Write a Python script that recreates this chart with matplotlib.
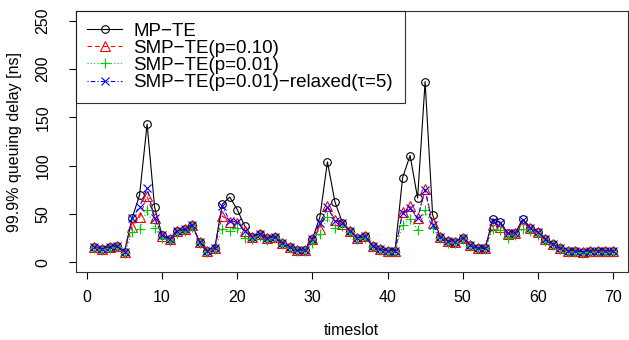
#!/usr/bin/env python3

"""
99.9% queuing delay per timeslot, MP-TE vs SMP-TE variants
"""

import numpy as np
import matplotlib
matplotlib.use("Agg")
import matplotlib.pyplot as plt

plt.rcParams["font.family"] = ["Liberation Sans", "DejaVu Sans"]

timeslot = np.arange(1, 71)

mp_te = [16, 14, 16, 16.5, 11, 45.5, 69.5, 143, 57, 28,
         24, 32.5, 34, 38.5, 21, 12, 14.5, 60, 67.5, 54.5,
         37.5, 26.5, 29.5, 25, 26.5, 20, 15.5, 12.7, 12.7, 24,
         47, 104, 62.5, 41, 32.5, 25.5, 27, 17, 13.5, 12,
         12, 87.5, 110.5, 66.5, 187, 49, 26.5, 22, 21.5, 25.5,
         18, 14.5, 14.5, 45, 41.5, 30, 30.5, 44.5, 36, 31.5,
         24, 18.5, 14.5, 12, 12, 11, 12, 12, 12, 11.5]

smp_p10 = [16, 14, 16, 16.5, 11, 37, 46.5, 68.5, 45.5, 27.5,
           24, 32.5, 34, 38.5, 21, 12, 14.5, 48, 42, 41,
           32, 26.5, 29.5, 25, 26.5, 20, 15.5, 12.7, 12.7, 24,
           35, 58, 44, 40, 32.5, 25.5, 27, 17, 13.5, 12,
           12, 52, 58, 45.5, 75.5, 40.5, 26.5, 22, 21.5, 25.5,
           18, 14.5, 14.5, 38.5, 37, 29, 30, 40, 36, 31,
           24, 18.5, 14.5, 12, 12, 11, 12, 12, 12, 11.5]

smp_p01 = [15, 13, 15, 15.5, 9.5, 31, 35, 54, 35.5, 25,
           22.5, 30.5, 32.5, 36.5, 19.5, 11, 13.5, 35, 32.5, 35.5,
           25.5, 24.5, 27.5, 23.5, 25, 18.5, 14.5, 11.5, 11.5, 20,
           29, 46.5, 36, 38, 31, 24, 25.5, 16, 12.5, 11,
           11, 39, 44.5, 33.5, 54, 36, 25, 20.5, 20, 24,
           16.5, 13.5, 13.5, 34, 33.5, 25, 28, 34, 32.5, 28.5,
           22.5, 17.5, 13.5, 11, 11, 10, 11, 11, 11, 10.5]

smp_relaxed = [16, 14, 16, 16.5, 11, 45.5, 57.5, 76.5, 45.5, 28,
               24, 32.5, 34, 38.5, 21, 12, 14.5, 58, 43, 42,
               32, 26.5, 29.5, 25, 26.5, 20, 15.5, 12.7, 12.7, 24,
               41, 57, 43, 41, 32.5, 25.5, 27, 17, 13.5, 12,
               12, 51.5, 56, 45.5, 75, 39, 26.5, 22, 21.5, 25.5,
               18, 14.5, 14.5, 43, 41, 30, 30.5, 44, 36, 31.5,
               24, 18.5, 14.5, 12, 12, 11, 12, 12, 12, 11.5]

labels = ["MP\u2212TE", "SMP\u2212TE(p=0.10)", "SMP\u2212TE(p=0.01)",
          "SMP\u2212TE(p=0.01)\u2212relaxed(\u03c4=5)"]

fig = plt.figure(figsize=(6.29, 3.40), dpi=100)
ax = fig.add_axes([75.7 / 629, 1 - 272.3 / 340, (628 - 75.7) / 629, (272.3 - 11) / 340])

lw = 0.8
ms = 5.5
ax.plot(timeslot, mp_te, color="black", ls="-", lw=lw, marker="o", ms=ms,
        mfc="none", mew=lw, label=labels[0])
ax.plot(timeslot, smp_p10, color="red", ls=(0, (4, 3)), lw=lw, marker="^", ms=ms + 1,
        mfc="none", mew=lw, label=labels[1])
ax.plot(timeslot, smp_p01, color="#00cd00", ls=(0, (1, 2)), lw=lw, marker="+", ms=ms + 2,
        mew=lw, label=labels[2])
ax.plot(timeslot, smp_relaxed, color="blue", ls=(0, (1, 2, 4, 2)), lw=lw, marker="x", ms=ms,
        mew=lw, label=labels[3])

ax.set_xlim(-1.5, 72.0)
ax.set_ylim(-10.3, 260)
ax.set_xticks(range(0, 71, 10))
ax.set_yticks(range(0, 251, 50))
ax.tick_params(direction="out", length=5, width=0.8, labelsize=11.5)
ax.tick_params(axis="x", pad=8)
ax.tick_params(axis="y", pad=13)
for lab in ax.get_yticklabels():
    lab.set_rotation(90)
    lab.set_va("center")
for s in ax.spines.values():
    s.set_linewidth(0.8)
    s.set_color("#333333")

ax.set_xlabel("timeslot", fontsize=11.5, labelpad=12.5)
ax.set_ylabel("99.9% queuing delay [ns]", fontsize=11.5, labelpad=10)

leg = ax.legend(loc="upper left", borderaxespad=0, fancybox=False, edgecolor="black",
                fontsize=13.5, handlelength=1.85, handletextpad=0.6, labelspacing=0.0,
                borderpad=0.62)
leg.get_frame().set_linewidth(0.8)

fig.savefig("out.png", dpi=100)
plt.close(fig)
